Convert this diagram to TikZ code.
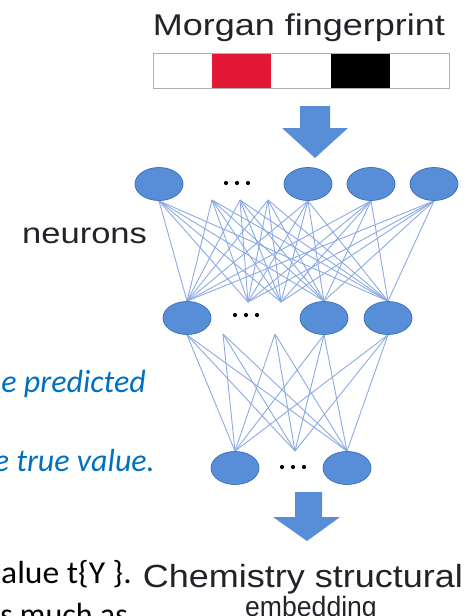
\documentclass[tikz,border=0pt]{standalone}
\usepackage{fontspec}
\setmainfont{Liberation Sans}
\newfontfamily\slidefont{Carlito}
\usetikzlibrary{shapes.geometric,backgrounds}

\definecolor{nfill}{RGB}{88,142,216}
\definecolor{nborder}{RGB}{66,116,188}
\definecolor{edgeblue}{RGB}{140,170,226}
\definecolor{slideblue}{RGB}{0,112,192}
\definecolor{fpred}{RGB}{226,24,54}
\definecolor{fpgray}{RGB}{172,174,184}
\definecolor{labelgray}{RGB}{34,34,40}

\tikzset{
  neuron/.style={ellipse, draw=nborder, fill=nfill, line width=0.8pt,
    minimum width=48pt, minimum height=33pt, inner sep=0pt},
  edge/.style={draw=edgeblue, line width=0.9pt},
  label/.style={inner sep=0pt, text=labelgray},
  slide/.style={inner sep=0pt, font=\slidefont\fontsize{32}{38}\selectfont},
  blockarrow/.style={fill=nfill, draw=none},
}

% three small dots standing for the omitted neurons of a layer
\newcommand{\ellipsisdots}[2]{%
  \foreach \dx in {-11,0,11} \fill[black] (#1+\dx,#2) circle (2.1pt);}

\begin{document}
\begin{tikzpicture}[x=1pt,y=-1pt]
\useasboundingbox (0,0) rectangle (467,616);
\clip (0,0) rectangle (467,616);

% text of the slide behind the figure
\node[slide, text=slideblue, anchor=base east] (t1) at (146,392) {\itshape e predicted};
\node[slide, text=slideblue, anchor=base east] (t2) at (155,471) {\itshape e true value.};
\node[slide, text=black, anchor=base west] (t3) at (1,583) {\scalebox{1.05}[1]{alue t\{Y \}.}};
\node[slide, text=black, anchor=base east] (t4) at (128,625) {s much as};

% Morgan fingerprint bit vector
\node[label, anchor=base] (fptitle) at (299,35)
  {\scalebox{1.2}[1]{\fontsize{30}{34}\selectfont Morgan fingerprint}};
\fill[fpred] (212,53) rectangle (271,88);
\fill[black] (331,53) rectangle (390,88);
\draw[fpgray, line width=1pt] (153,53) rectangle (449,88);

% input arrow
\fill[blockarrow] (300,106) -- (330,106) -- (330,128) -- (348,128)
  -- (315,158) -- (282,128) -- (300,128) -- cycle;

% layer 1
\node[neuron] (a1) at (159,184) {};
\node[neuron] (a2) at (308,184) {};
\node[neuron] (a3) at (371,184) {};
\node[neuron] (a4) at (434,184) {};
\ellipsisdots{237}{183}
\coordinate (ha1) at (212,200);
\coordinate (ha2) at (240,200);
\coordinate (ha3) at (268,200);

% layer 2
\node[neuron] (b1) at (187,318) {};
\node[neuron] (b2) at (324,318) {};
\node[neuron] (b3) at (388,318) {};
\ellipsisdots{246}{315}
\coordinate (hb1) at (248,302);
\coordinate (hb2) at (281,302);
\coordinate (gb1) at (223,334);
\coordinate (gb2) at (275,334);

% layer 3
\node[neuron] (c1) at (235,468) {};
\node[neuron] (c2) at (347,468) {};
\ellipsisdots{293}{467}
\coordinate (hc1) at (295,451);

% connections
\begin{scope}[on background layer]
  \foreach \s in {a1.south,ha1,ha2,ha3,a2.south,a3.south,a4.south}
    \foreach \t in {b1.north,hb1,hb2,b2.north,b3.north}
      \draw[edge] (\s) -- (\t);
  \foreach \s in {b1.south,gb1,gb2,b2.south,b3.south}
    \foreach \t in {c1.north,hc1,c2.north}
      \draw[edge] (\s) -- (\t);
\end{scope}

\node[label, anchor=base west] (neurons) at (22,243)
  {\scalebox{1.19}[1]{\fontsize{29}{34}\selectfont neurons}};

% output arrow
\fill[blockarrow] (295,492) -- (322,492) -- (322,517) -- (340,517)
  -- (307,541) -- (273,517) -- (295,517) -- cycle;

\node[label, anchor=base] (emb1) at (303,587)
  {\scalebox{1.125}[1]{\fontsize{32}{36}\selectfont Chemistry structural}};
\node[label, anchor=base] (emb2) at (311,616)
  {\scalebox{0.95}[1]{\fontsize{28}{32}\selectfont embedding}};
\end{tikzpicture}
\end{document}
